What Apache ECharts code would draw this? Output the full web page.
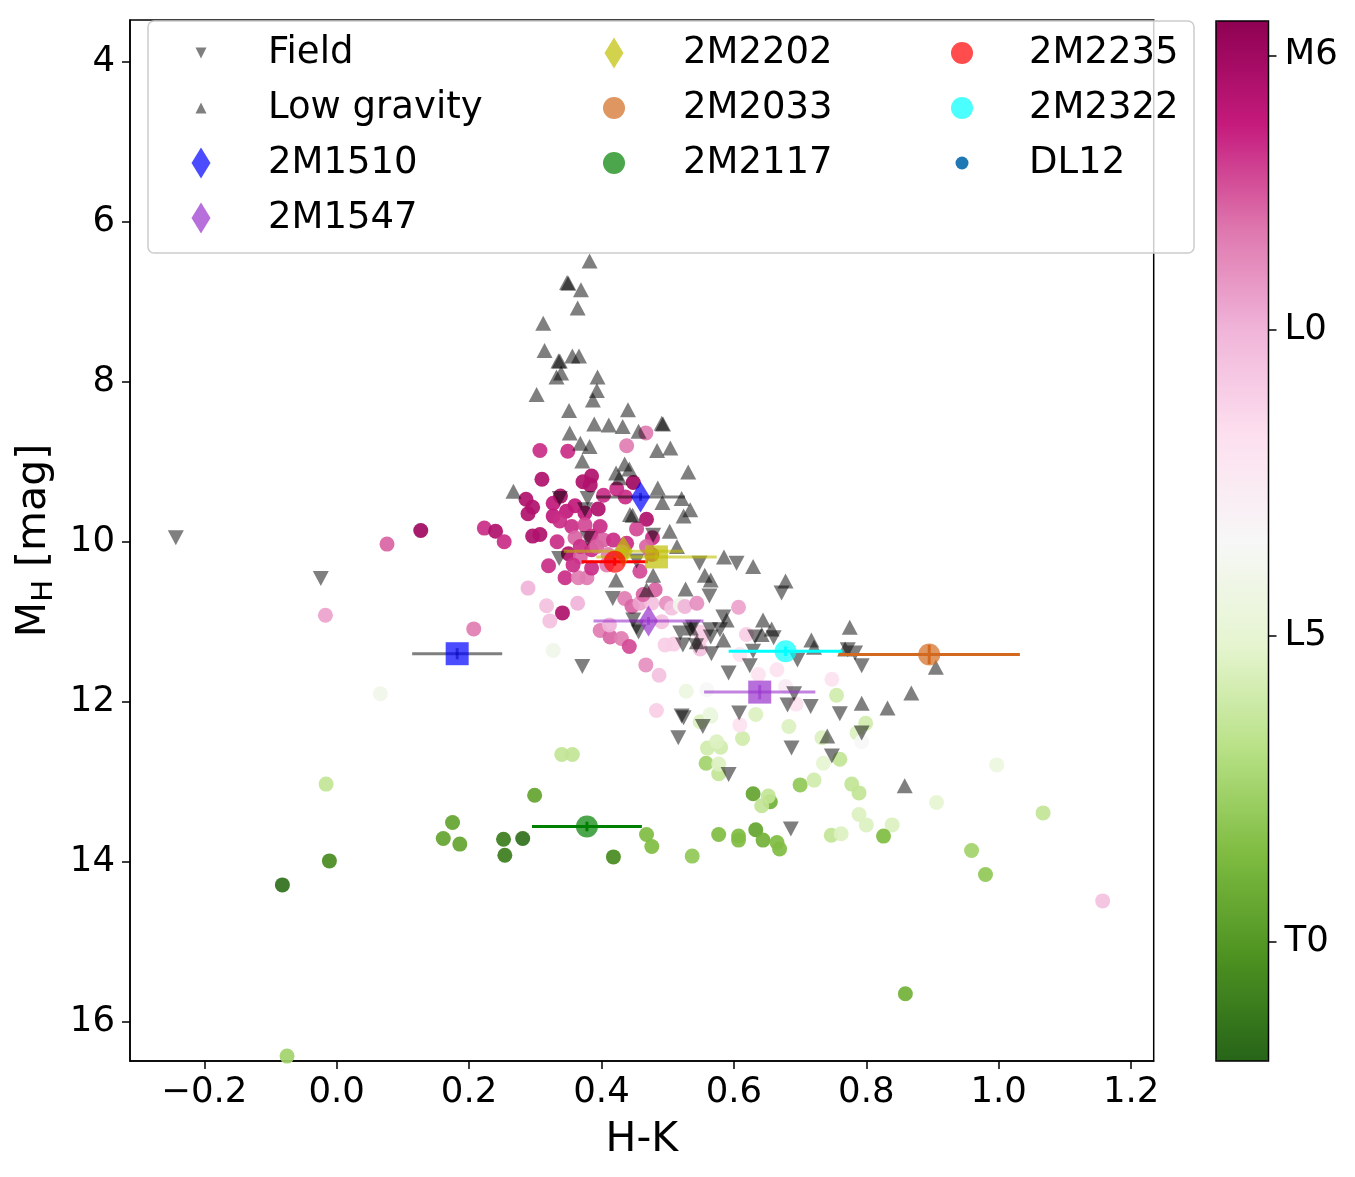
<!DOCTYPE html>
<html>
<head>
<meta charset="utf-8">
<script src="https://cdn.jsdelivr.net/npm/echarts@6/dist/echarts.min.js"></script>
<style>
  html, body { margin: 0; padding: 0; background: #fff; }
  #chart { width: 1355px; height: 1177px; }
</style>
</head>
<body>
<div id="chart"></div>
<script>
const FONT = 'DejaVu Sans';

// tick positions
const xTicks = [-0.2, 0, 0.2, 0.4, 0.6, 0.8, 1.0, 1.2];
const yTicks = [4, 6, 8, 10, 12, 14, 16];
// colour bar: spectral type index (L0 = 10, L5 = 15, T0 = 20)
const cbTickVals = [5.51, 10, 15, 20];
const cbTickLabels = ['M6', 'L0', 'L5', 'T0'];
const sptMin = 4.95;
const sptMax = 21.94;
const piyg = ['#8e0152', '#c51b7d', '#de77ae', '#f1b6da', '#fde0ef', '#f7f7f7',
              '#e6f5d0', '#b8e186', '#7fbc41', '#4d9221', '#276419'];

// Field dwarfs [H-K, M_H]
const fieldPts = [
  [-0.243, 9.95], [-0.024, 10.46], [0.337, 9.46], [0.379, 9.46], [0.375, 9.60], [0.379, 9.96],
  [0.336, 10.21], [0.417, 10.71], [0.548, 10.27], [0.563, 10.68], [0.478, 9.92], [0.456, 11.13],
  [0.448, 10.98], [0.519, 11.14], [0.534, 11.10], [0.564, 11.10], [0.604, 10.27], [0.672, 10.64],
  [0.453, 11.07], [0.523, 11.29], [0.538, 11.07], [0.543, 11.30], [0.566, 11.40], [0.565, 11.19],
  [0.584, 10.94], [0.579, 11.10], [0.632, 11.19], [0.660, 11.20], [0.624, 11.55], [0.592, 11.64],
  [0.629, 11.37], [0.696, 11.48], [0.371, 11.56], [0.691, 11.90], [0.681, 12.04], [0.716, 12.06],
  [0.760, 12.15], [0.793, 12.39], [0.608, 12.14], [0.521, 12.18], [0.524, 12.20], [0.553, 12.31],
  [0.516, 12.45], [0.687, 12.58], [0.748, 12.68], [0.592, 12.91], [0.772, 11.35], [0.783, 11.39],
  [0.793, 11.55], [0.686, 13.59], [0.453, 10.24]
];

// Low gravity dwarfs [H-K, M_H]
const lowGravPts = [
  [0.382, 6.49], [0.348, 6.76], [0.350, 6.77], [0.369, 6.85], [0.364, 7.08], [0.312, 7.27],
  [0.314, 7.61], [0.335, 7.74], [0.337, 7.74], [0.356, 7.68], [0.366, 7.68], [0.332, 7.94],
  [0.339, 7.89], [0.302, 8.16], [0.394, 7.94], [0.393, 8.11], [0.387, 8.23], [0.351, 8.36],
  [0.440, 8.35], [0.389, 8.53], [0.411, 8.54], [0.432, 8.56], [0.456, 8.62], [0.491, 8.52],
  [0.493, 8.53], [0.352, 8.64], [0.368, 8.77], [0.382, 8.81], [0.484, 8.86], [0.504, 8.83],
  [0.371, 8.99], [0.435, 9.03], [0.442, 9.09], [0.422, 9.14], [0.427, 9.20], [0.531, 9.13],
  [0.267, 9.37], [0.485, 9.33], [0.492, 9.51], [0.521, 9.46], [0.534, 9.60], [0.524, 9.68],
  [0.443, 9.66], [0.447, 9.67], [0.503, 9.87], [0.514, 10.06], [0.478, 10.42], [0.422, 10.48],
  [0.527, 10.59], [0.556, 10.42], [0.565, 10.48], [0.468, 10.60], [0.585, 10.19], [0.629, 10.31],
  [0.678, 10.49], [0.589, 10.98], [0.644, 10.98], [0.657, 11.09], [0.642, 11.16], [0.775, 11.07],
  [0.717, 11.23], [0.721, 11.32], [0.768, 11.34], [0.584, 11.23], [0.793, 12.02], [0.832, 12.08],
  [0.741, 12.43], [0.544, 11.25], [0.535, 11.08], [0.905, 11.57], [0.868, 11.89], [0.858, 13.05]
];

// DL12 sample [H-K, M_H, spectral type index]
const dl12Pts = [
  [0.076, 10.03, 8], [0.127, 9.86, 5.5], [0.223, 9.83, 7], [0.240, 9.87, 6], [0.253, 10.00, 7],
  [-0.017, 10.92, 9.5], [0.207, 11.09, 8.5], [0.066, 11.90, 14], [-0.016, 13.03, 16.5],
  [0.175, 13.51, 19.5], [0.161, 13.71, 19.5], [0.186, 13.78, 19.5], [0.252, 13.72, 21], [0.254, 13.92, 21],
  [0.281, 13.71, 21.5], [-0.011, 13.99, 20.5], [-0.082, 14.29, 21.5], [-0.075, 16.43, 17.5],
  [0.859, 15.65, 19], [1.157, 14.49, 10.5],
  [0.340, 12.66, 16.5], [0.356, 12.66, 16.5], [0.299, 13.17, 19.5], [0.468, 13.66, 18.5], [0.476, 13.81, 18.5],
  [0.418, 13.94, 20.5], [0.537, 13.93, 18], [0.577, 13.66, 18.5], [0.607, 13.68, 18.5], [0.607, 13.73, 18.5],
  [0.633, 13.60, 19.5], [0.644, 13.73, 19], [0.665, 13.76, 18.5], [0.669, 13.84, 18.5], [0.629, 13.15, 19.5],
  [0.655, 13.25, 19], [0.642, 13.30, 16.5], [0.652, 13.18, 16.5], [0.558, 12.77, 17.5], [0.577, 12.90, 16.5],
  [0.560, 12.58, 16], [0.580, 12.57, 16], [0.574, 12.50, 15.5], [0.577, 12.78, 15.5], [0.613, 12.46, 16],
  [0.633, 12.16, 15.5], [0.549, 12.25, 15.5], [0.565, 12.18, 15], [0.609, 12.29, 12], [0.483, 12.11, 11],
  [0.683, 12.31, 15.5], [0.700, 13.04, 18], [0.721, 12.98, 16], [0.735, 12.77, 15], [0.760, 12.72, 16.5],
  [0.733, 12.45, 15.5], [0.799, 12.27, 16], [0.786, 12.39, 15.5], [0.793, 12.50, 13.5], [0.778, 13.03, 16.5],
  [0.789, 13.14, 16.5], [0.789, 13.41, 15.5], [0.800, 13.54, 15.5], [0.839, 13.54, 15.5], [0.826, 13.68, 18.5],
  [0.747, 13.67, 16.5], [0.762, 13.65, 15.5], [0.906, 13.26, 15], [0.997, 12.79, 14.5], [1.067, 13.39, 16.5],
  [0.959, 13.86, 17.5], [0.980, 14.16, 18], [0.755, 11.92, 16], [0.665, 11.60, 12], [0.748, 11.72, 12],
  [0.694, 12.03, 12],
  [0.607, 10.82, 9.5], [0.619, 11.16, 11], [0.637, 11.66, 12], [0.609, 11.41, 12], [0.678, 11.81, 12.5],
  [0.528, 11.87, 14.5], [0.559, 11.85, 13.5], [0.564, 12.16, 14.5], [0.467, 11.54, 9], [0.487, 11.67, 10.5],
  [0.364, 10.77, 10], [0.341, 10.89, 6], [0.398, 11.11, 8.5], [0.413, 11.19, 8], [0.430, 11.21, 8.5],
  [0.442, 11.31, 7.5], [0.412, 11.04, 10], [0.435, 10.71, 8.5], [0.446, 10.81, 8], [0.458, 10.77, 9.5],
  [0.476, 10.77, 10.5], [0.481, 10.60, 8], [0.458, 10.37, 7.5], [0.491, 11.00, 10.5], [0.496, 11.29, 11],
  [0.498, 10.77, 9], [0.506, 10.83, 10.5], [0.519, 10.79, 14], [0.526, 10.81, 10], [0.544, 10.77, 9],
  [0.549, 11.34, 10.5], [0.551, 11.19, 11],
  [0.307, 8.86, 7], [0.349, 8.87, 7], [0.438, 8.80, 8.5], [0.467, 8.64, 8.5], [0.310, 9.22, 6],
  [0.372, 9.25, 6], [0.385, 9.18, 6], [0.383, 9.29, 6], [0.448, 9.26, 5.5], [0.403, 9.42, 7],
  [0.423, 9.34, 7], [0.436, 9.44, 7], [0.286, 9.47, 6], [0.296, 9.57, 6], [0.289, 9.65, 6],
  [0.327, 9.52, 6.5], [0.338, 9.43, 6], [0.360, 9.55, 6.5], [0.347, 9.62, 6.5], [0.327, 9.68, 6.5],
  [0.337, 9.74, 7], [0.375, 9.64, 6.5], [0.395, 9.59, 6], [0.355, 9.81, 7], [0.375, 9.79, 7.5],
  [0.398, 9.81, 7], [0.468, 9.72, 6], [0.296, 9.93, 6], [0.307, 9.91, 6], [0.333, 10.00, 7],
  [0.360, 9.95, 8], [0.385, 9.93, 7], [0.403, 9.98, 8], [0.350, 10.15, 6], [0.368, 10.19, 8],
  [0.385, 10.10, 7], [0.320, 10.30, 7], [0.345, 10.45, 7], [0.365, 10.45, 8.5], [0.378, 10.45, 8.5],
  [0.385, 10.33, 7], [0.477, 9.95, 7], [0.463, 10.66, 8], [0.289, 10.58, 10], [0.317, 10.80, 10.5],
  [0.322, 10.99, 10.5], [0.476, 10.16, 7], [0.453, 9.84, 7.5], [0.468, 10.06, 8], [0.438, 10.02, 7],
  [0.418, 9.98, 7], [0.393, 10.06, 8], [0.410, 10.16, 8.5], [0.368, 10.06, 7], [0.357, 10.29, 7],
  [0.431, 10.13, 8.5], [0.408, 10.29, 8.5], [0.327, 11.36, 14], [0.509, 11.28, 11], [0.549, 11.13, 11]
];

// highlighted objects: main measurement
const objNames = ['2M1510', '2M1547', '2M2202', '2M2033', '2M2117', '2M2235', '2M2322'];
const objX = [0.459, 0.471, 0.433, 0.895, 0.378, 0.420, 0.678];
const objY = [9.44, 10.99, 10.12, 11.41, 13.56, 10.25, 11.37];
const objXErr = [0.067, 0.083, 0.090, 0.137, 0.083, 0.050, 0.086];
const objYErr = [0.05, 0.05, 0.05, 0.12, 0.06, 0.05, 0.06];
// second measurement (squares)
const sqNames = ['2M1510', '2M1547', '2M2202'];
const sqX = [0.182, 0.639, 0.483];
const sqY = [11.40, 11.88, 10.19];
const sqXErr = [0.068, 0.084, 0.091];
const sqYErr = [0.07, 0.09, 0.05];

const DOWN_TRI = 'path://M0,0L10,0L5,10Z';
const UP_TRI = 'path://M5,0L10,10L0,10Z';
const THIN_DIAMOND = 'path://M0,15.5L9.5,0L19,15.5L9.5,31Z';
const CIRCLE = 'path://M0,10a10,10 0 1,0 20,0a10,10 0 1,0 -20,0Z';

const objStyle = {
  '2M1510': { color: '#0000ff', bar: 'rgba(0,0,0,0.5)', symbol: 'diamond' },
  '2M1547': { color: '#9932cc', bar: 'rgba(153,50,204,0.6)', symbol: 'diamond' },
  '2M2202': { color: '#bfbf00', bar: 'rgba(191,191,0,0.6)', symbol: 'diamond' },
  '2M2033': { color: '#d2691e', bar: '#d2691e', symbol: 'circle' },
  '2M2117': { color: '#008000', bar: '#008000', symbol: 'circle' },
  '2M2235': { color: '#ff0000', bar: '#ff0000', symbol: 'circle' },
  '2M2322': { color: '#00ffff', bar: '#00ffff', symbol: 'circle' }
};

function renderErrBar(params, api) {
  const x = api.value(0), y = api.value(1), ex = api.value(2), ey = api.value(3);
  const l = api.coord([x - ex, y]), r = api.coord([x + ex, y]);
  const t = api.coord([x, y - ey]), b = api.coord([x, y + ey]);
  const style = { stroke: api.visual('color'), lineWidth: 3 };
  return {
    type: 'group',
    children: [
      { type: 'line', shape: { x1: l[0], y1: l[1], x2: r[0], y2: r[1] }, style },
      { type: 'line', shape: { x1: t[0], y1: t[1], x2: b[0], y2: b[1] }, style }
    ]
  };
}

const series = [
  { name: 'DL12', type: 'scatter', data: dl12Pts, symbol: 'circle', symbolSize: 15,
    itemStyle: { opacity: 0.92 }, z: 2 },
  { name: 'Field', type: 'scatter', data: fieldPts, symbol: DOWN_TRI, symbolSize: [16, 15],
    itemStyle: { color: '#000', opacity: 0.5 }, z: 3 },
  { name: 'Low gravity', type: 'scatter', data: lowGravPts, symbol: 'triangle', symbolSize: [16, 15],
    itemStyle: { color: '#000', opacity: 0.5 }, z: 3 }
];

objNames.forEach((name, i) => {
  const st = objStyle[name];
  const bars = [[objX[i], objY[i], objXErr[i], objYErr[i]]];
  const k = sqNames.indexOf(name);
  if (k >= 0) bars.push([sqX[k], sqY[k], sqXErr[k], sqYErr[k]]);
  series.push({
    name, type: 'custom', renderItem: renderErrBar, data: bars,
    encode: { x: 0, y: 1 }, itemStyle: { color: st.bar }, z: 4, silent: true
  });
  series.push({
    name, type: 'scatter', data: [[objX[i], objY[i]]],
    symbol: st.symbol, symbolSize: st.symbol === 'diamond' ? [19, 31] : 22,
    itemStyle: { color: st.color, opacity: 0.7 }, z: 5
  });
  if (k >= 0) {
    series.push({
      name, type: 'scatter', data: [[sqX[k], sqY[k]]],
      symbol: 'rect', symbolSize: 23,
      itemStyle: { color: st.color, opacity: 0.7 }, z: 5
    });
  }
});

// legend, laid out column by column; iw = drawn icon width
const legendEntries = [
  { name: 'Field', col: 0, row: 0, icon: DOWN_TRI, h: 11, iw: 11, color: '#000', op: 0.5 },
  { name: 'Low gravity', col: 0, row: 1, icon: UP_TRI, h: 11, iw: 11, color: '#000', op: 0.5 },
  { name: '2M1510', col: 0, row: 2, icon: THIN_DIAMOND, h: 31, iw: 19, color: '#0000ff', op: 0.7 },
  { name: '2M1547', col: 0, row: 3, icon: THIN_DIAMOND, h: 31, iw: 19, color: '#9932cc', op: 0.7 },
  { name: '2M2202', col: 1, row: 0, icon: THIN_DIAMOND, h: 31, iw: 19, color: '#bfbf00', op: 0.7 },
  { name: '2M2033', col: 1, row: 1, icon: CIRCLE, h: 22, iw: 22, color: '#d2691e', op: 0.7 },
  { name: '2M2117', col: 1, row: 2, icon: CIRCLE, h: 22, iw: 22, color: '#008000', op: 0.7 },
  { name: '2M2235', col: 2, row: 0, icon: CIRCLE, h: 22, iw: 22, color: '#ff0000', op: 0.7 },
  { name: '2M2322', col: 2, row: 1, icon: CIRCLE, h: 22, iw: 22, color: '#00ffff', op: 0.7 },
  { name: 'DL12', col: 2, row: 2, icon: CIRCLE, h: 13, iw: 13, color: '#1f77b4', op: 1 }
];
const legendIconX = [201, 614, 962];
const legendTextX = [268, 683, 1029];
const legendRowY = [53, 108, 163, 218];

const legends = legendEntries.map(e => {
  const w = 2 * (legendTextX[e.col] - legendIconX[e.col] - 5);
  return {
    data: [{ name: e.name, icon: e.icon, itemStyle: { color: e.color, opacity: e.op } }],
    left: legendIconX[e.col] - e.iw / 2,
    top: legendRowY[e.row] - 22,
    itemWidth: w,
    itemHeight: e.h,
    symbolKeepAspect: true,
    padding: 0,
    selectedMode: false,
    z: 6,
    textStyle: { fontFamily: FONT, fontSize: 37, color: '#000', lineHeight: 40, padding: [4, 0, 0, 0] }
  };
});

const fmtX = v => (v < -1e-9 ? '\u2212' : '') + Math.abs(v).toFixed(1);

const chart = echarts.init(document.getElementById('chart'), null, { renderer: 'canvas' });
chart.setOption({
  backgroundColor: '#fff',
  animation: false,
  textStyle: { fontFamily: FONT },
  grid: [
    { left: 130, top: 20, width: 1023.7, height: 1041, show: true,
      borderColor: '#000', borderWidth: 1.5, backgroundColor: 'transparent' },
    { left: 1216, top: 21, width: 52.5, height: 1040, show: true,
      borderColor: '#000', borderWidth: 1.5, backgroundColor: 'transparent', z: 10 }
  ],
  xAxis: [
    { type: 'value', gridIndex: 0, min: -0.3122, max: 1.2341,
      name: 'H-K', nameLocation: 'middle', nameGap: 59,
      nameTextStyle: { fontFamily: FONT, fontSize: 41, color: '#000' },
      splitLine: { show: false },
      axisLine: { onZero: false, lineStyle: { color: '#000', width: 1.5 } },
      axisTick: { length: 8, lineStyle: { color: '#000', width: 1.5 }, customValues: xTicks },
      axisLabel: { customValues: xTicks, formatter: fmtX, fontFamily: FONT, fontSize: 35.5,
        color: '#000', margin: 14 } },
    { type: 'value', gridIndex: 1, min: 0, max: 1, show: false }
  ],
  yAxis: [
    { type: 'value', gridIndex: 0, inverse: true, min: 3.479, max: 16.491,
      name: '{a|M}{b|H}{a| [mag]}', nameLocation: 'middle', nameGap: 70,
      nameTextStyle: {
        fontFamily: FONT, color: '#000',
        rich: {
          a: { fontFamily: FONT, fontSize: 41, color: '#000' },
          b: { fontFamily: FONT, fontSize: 29, color: '#000', padding: [20, 0, 0, 0] }
        }
      },
      splitLine: { show: false },
      axisLine: { onZero: false, lineStyle: { color: '#000', width: 1.5 } },
      axisTick: { length: 8, lineStyle: { color: '#000', width: 1.5 }, customValues: yTicks },
      axisLabel: { customValues: yTicks, fontFamily: FONT, fontSize: 35.5, color: '#000', margin: 15,
        padding: [4, 0, 0, 0] } },
    { type: 'value', gridIndex: 1, position: 'right', inverse: true, min: sptMin, max: sptMax,
      splitLine: { show: false },
      axisLine: { show: false, onZero: false },
      axisTick: { length: 8, lineStyle: { color: '#000', width: 1.5 }, customValues: cbTickVals },
      axisLabel: { customValues: cbTickVals, fontFamily: FONT, fontSize: 35.5, color: '#000', margin: 16,
        padding: [5, 0, 0, 0],
        formatter: v => cbTickLabels[cbTickVals.findIndex(t => Math.abs(t - v) < 1e-6)] || '' } }
  ],
  visualMap: {
    type: 'continuous', seriesIndex: 0, dimension: 2,
    min: sptMin, max: sptMax, inverse: true, orient: 'vertical',
    left: 1216, top: 21, itemWidth: 52.5, itemHeight: 1040, padding: 0,
    calculable: false, hoverLink: false,
    inRange: { color: piyg }
  },
  legend: legends,
  graphic: [{
    type: 'rect', z: 5, silent: true,
    shape: { x: 148, y: 21, width: 1046, height: 232, r: 6 },
    style: { fill: 'rgba(255,255,255,0.8)', stroke: '#cccccc', lineWidth: 1.5 }
  }],
  series
});
</script>
</body>
</html>
